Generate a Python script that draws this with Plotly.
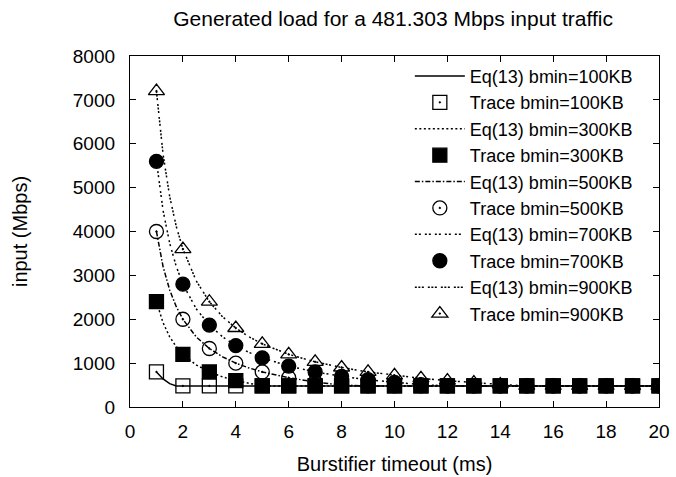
import plotly.graph_objects as go

# ---- data ----
EQ_X = [1, 1.25, 1.5, 1.75, 2, 2.5, 3, 3.5, 4, 4.5, 5, 6, 7, 8, 9, 10, 11, 12, 13, 14, 15, 16, 17, 18, 19, 20]
EQ_100 = [800, 640, 533, 481, 481, 481, 481, 481, 481, 481, 481, 481, 481, 481, 481, 481, 481, 481, 481, 481, 481, 481, 481, 481, 481, 481]
EQ_300 = [2400, 1920, 1600, 1371, 1200, 960, 800, 686, 600, 533, 481, 481, 481, 481, 481, 481, 481, 481, 481, 481, 481, 481, 481, 481, 481, 481]
EQ_500 = [4000, 3200, 2667, 2286, 2000, 1600, 1333, 1143, 1000, 889, 800, 667, 571, 500, 481, 481, 481, 481, 481, 481, 481, 481, 481, 481, 481, 481]
EQ_700 = [5600, 4480, 3733, 3200, 2800, 2240, 1867, 1600, 1400, 1244, 1120, 933, 800, 700, 622, 560, 509, 481, 481, 481, 481, 481, 481, 481, 481, 481]
EQ_900 = [7200, 5760, 4800, 4114, 3600, 2880, 2400, 2057, 1800, 1600, 1440, 1200, 1029, 900, 800, 720, 655, 600, 554, 514, 481, 481, 481, 481, 481, 481]

TRACE_X = [1, 2, 3, 4, 5, 6, 7, 8, 9, 10, 11, 12, 13, 14, 15, 16, 17, 18, 19, 20]
TRACE_100 = [800, 481, 481, 481, 481, 481, 481, 481, 481, 481, 481, 481, 481, 481, 481, 481, 481, 481, 481, 481]
TRACE_300 = [2400, 1200, 800, 600, 481, 481, 481, 481, 481, 481, 481, 481, 481, 481, 481, 481, 481, 481, 481, 481]
TRACE_500 = [4000, 2000, 1333, 1000, 800, 667, 571, 500, 481, 481, 481, 481, 481, 481, 481, 481, 481, 481, 481, 481]
TRACE_700 = [5600, 2800, 1867, 1400, 1120, 933, 800, 700, 622, 560, 509, 481, 481, 481, 481, 481, 481, 481, 481, 481]
TRACE_900 = [7200, 3600, 2400, 1800, 1440, 1200, 1029, 900, 800, 720, 655, 600, 554, 514, 481, 481, 481, 481, 481, 481]

SIZES = ["100KB", "300KB", "500KB", "700KB", "900KB"]
X_TICKS = [0, 2, 4, 6, 8, 10, 12, 14, 16, 18, 20]
Y_TICKS = [0, 1000, 2000, 3000, 4000, 5000, 6000, 7000, 8000]

eq_series = [EQ_100, EQ_300, EQ_500, EQ_700, EQ_900]
trace_series = [TRACE_100, TRACE_300, TRACE_500, TRACE_700, TRACE_900]

dashes = ["solid", "2px,2.5px", "5px,2px,1.5px,2px", "2px,2px,2px,4px", "2px,1.5px,2px,1.5px,2px,4px"]
symbols = ["square-open-dot", "square", "circle-open-dot", "circle", "triangle-up-open-dot"]

FONT = "Liberation Sans, Arial, Helvetica, sans-serif"

fig = go.Figure()
for i, size in enumerate(SIZES):
    fig.add_trace(go.Scatter(
        x=EQ_X, y=eq_series[i], mode="lines",
        name=f"Eq(13) bmin={size}",
        line=dict(color="black", width=1.5, dash=dashes[i]),
    ))
    fig.add_trace(go.Scatter(
        x=TRACE_X, y=trace_series[i], mode="markers",
        name=f"Trace bmin={size}",
        marker=dict(symbol=symbols[i], size=14, color="black",
                    line=dict(color="black", width=1.3)),
    ))

axis_common = dict(
    showline=True, linecolor="black", linewidth=1.3, mirror="ticks",
    ticks="inside", ticklen=6, tickwidth=1, tickcolor="black",
    showgrid=False, zeroline=False,
    tickfont=dict(family=FONT, size=19, color="black"),
)

fig.update_xaxes(
    range=[0, 20], tickvals=X_TICKS, ticktext=[str(v) for v in X_TICKS],
    title=dict(text="Burstifier timeout (ms)", font=dict(family=FONT, size=20, color="black"), standoff=16),
    ticklabelstandoff=7,
    **axis_common,
)
fig.update_yaxes(
    range=[0, 8000], tickvals=Y_TICKS, ticktext=[str(v) for v in Y_TICKS],
    title=dict(text="input (Mbps)", font=dict(family=FONT, size=20, color="black"), standoff=39),
    ticklabelstandoff=10,
    **axis_common,
)

fig.update_layout(
    width=676, height=477,
    margin=dict(l=130, r=17, t=56, b=70, autoexpand=False),
    paper_bgcolor="white", plot_bgcolor="white",
    font=dict(family=FONT, color="black"),
    title=dict(text="Generated load for a 481.303 Mbps input traffic",
               font=dict(family=FONT, size=21, color="black"),
               x=0.5815, xanchor="center", y=0.96, yanchor="middle"),
    showlegend=True,
    legend=dict(
        x=0.96, xanchor="right", y=0.995, yanchor="top",
        bgcolor="rgba(0,0,0,0)", borderwidth=0,
        font=dict(family=FONT, size=18, color="black"),
        itemwidth=50, tracegroupgap=0,
    ),
)

fig.write_html("out.html", config={"displayModeBar": False},
               post_script="document.body.style.margin='0';")
